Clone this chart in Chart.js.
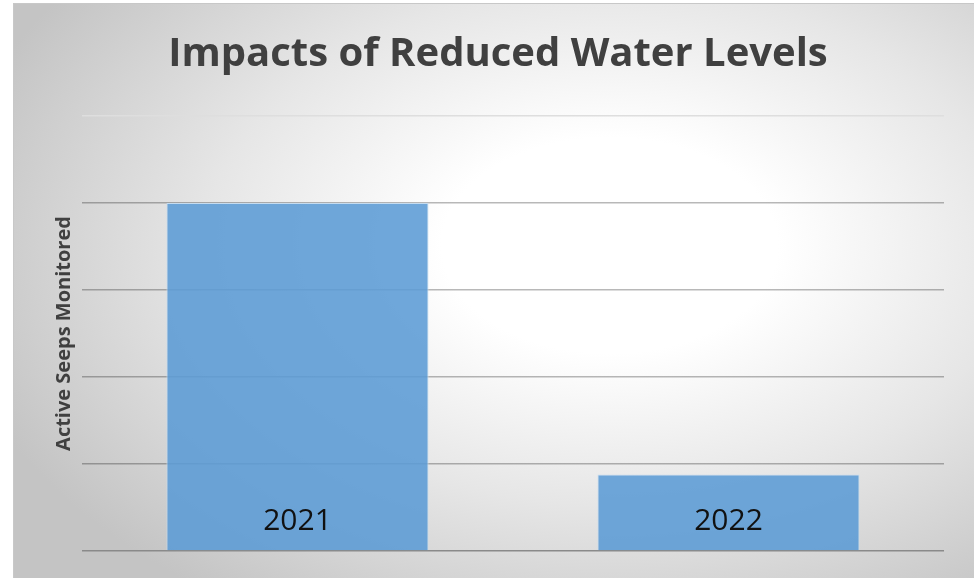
<!DOCTYPE html>
<html>
<head>
<meta charset="utf-8">
<script src="https://cdn.jsdelivr.net/npm/chart.js@4"></script>
<style>
  html, body { margin: 0; padding: 0; background: #fff; }
  #panel {
    position: absolute; left: 13px; top: 3px; width: 961px; height: 575px;
    border-left: 1px solid #c8c8c8; border-top: 1px solid #c8c8c8;
    background: radial-gradient(ellipse 70% 75% at 62% 42%, #ffffff 0%, #ffffff 25%, #e6e6e6 60%, #c4c4c4 100%);
  }
  #wrap { position: absolute; left: 0; top: 0; width: 974px; height: 578px; }
</style>
</head>
<body>
<div id="panel"></div>
<div id="wrap"><canvas id="seepChart"></canvas></div>
<script>
    // chart data
    const years = ['2021', '2022'];
    const seeps = [40, 8.8];
    const yTicks = [0, 10, 20, 30, 40, 50];

    // draws the year labels inside the bars, near the base
    const barLabels = {
        id: 'barLabels',
        afterDatasetsDraw(chart) {
            const ctx = chart.ctx;
            const xScale = chart.scales.x;
            const yScale = chart.scales.y;
            ctx.save();
            ctx.font = '30px "Open Sans"';
            ctx.fillStyle = '#111';
            ctx.textAlign = 'center';
            ctx.textBaseline = 'middle';
            years.forEach(function(year, i) {
                ctx.fillText(year, xScale.getPixelForValue(i), yScale.getPixelForValue(0) - 30);
            });
            ctx.restore();
        }
    };

    const ctx = document.getElementById('seepChart').getContext('2d');

    new Chart(ctx, {
        type: 'bar',
        data: {
            labels: years,
            datasets: [{
                label: 'Active Seeps Monitored',
                data: seeps,
                backgroundColor: 'rgba(91, 155, 213, 0.88)',
                borderColor: '#c5dcf0',
                borderWidth: 1,
                categoryPercentage: 0.608,
                barPercentage: 1
            }]
        },
        options: {
            responsive: true,
            maintainAspectRatio: false,
            animation: false,
            layout: {
                padding: { left: 52, right: 30, top: 0, bottom: 19 }
            },
            scales: {
                x: {
                    grid: { display: false },
                    border: { display: false },
                    ticks: { display: false }
                },
                y: {
                    min: 0,
                    max: 50,
                    afterBuildTicks: function(axis) {
                        axis.ticks = yTicks.map(v => ({ value: v }));
                    },
                    ticks: { display: false },
                    border: { display: false },
                    grid: {
                        drawTicks: false,
                        lineWidth: 1.5,
                        color: function(c) {
                            if (c.tick.value === 0) return '#8a8a8a';
                            if (c.tick.value === 50) return '#dedede';
                            return 'rgba(0, 0, 0, 0.28)';
                        }
                    },
                    title: {
                        display: true,
                        text: 'Active Seeps Monitored',
                        color: '#404040',
                        font: { family: '"Open Sans"', size: 20, weight: 'bold', lineHeight: 1.2 },
                        padding: { top: 0, bottom: 6 }
                    }
                }
            },
            plugins: {
                legend: { display: false },
                tooltip: { enabled: false },
                title: {
                    display: true,
                    text: 'Impacts of Reduced Water Levels',
                    color: '#404040',
                    font: { family: '"Open Sans"', size: 40, weight: 'bold', lineHeight: 1.2 },
                    padding: { top: 31, bottom: 37 }
                }
            }
        },
        plugins: [barLabels]
    });
</script>
</body>
</html>
